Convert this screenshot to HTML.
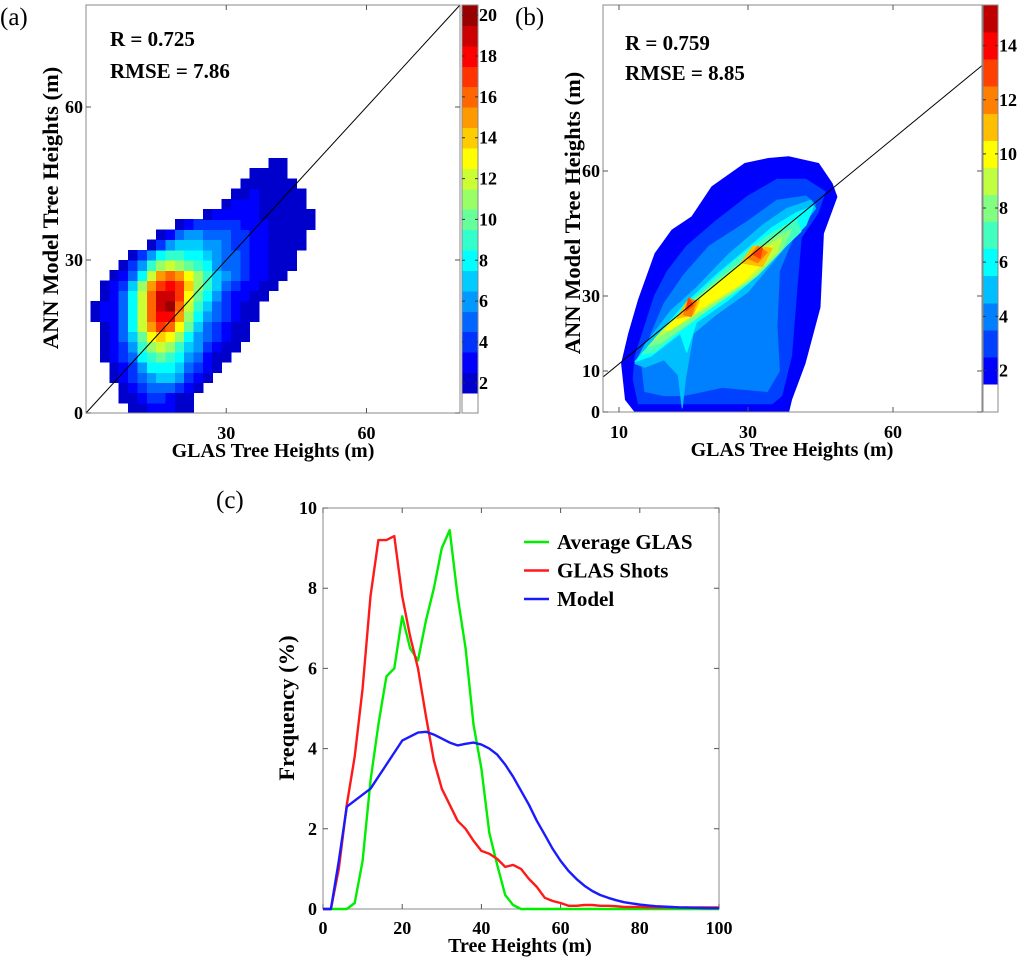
<!DOCTYPE html>
<html><head><meta charset="utf-8"><title>Tree height comparison</title>
<style>
html,body{margin:0;padding:0;background:#fff;}
svg{display:block;}
text{font-family:"Liberation Serif","DejaVu Serif",serif;fill:#000;}
.b{font-weight:bold;}
</style></head>
<body>
<svg id="fig" width="1024" height="959" viewBox="0 0 1024 959" xmlns="http://www.w3.org/2000/svg">
  <rect width="1024" height="959" fill="#fff"/>
  <g id="pa"></g>
  <g id="pb"></g>
  <g id="pc"></g>
</svg>
<script>
// ---------- data ----------
const A_ROWS = [
 [4,"2233322"],
 [3,"22344322"],
 [3,"234555432"],
 [2,"23456776432"],
 [2,"234688875432"],
 [1,"234589a9865322"],
 [1,"23469bcb9764322"],
 [1,"2357adedb8654322"],
 [1,"2358cfhgda754322"],
 [0,"23358cgiifb8654322"],
 [0,"23358cgjkgc9754322"],
 [1,"2358cgjjhda8643322"],
 [1,"2347bfhiheb97543322"],
 [2,"2358cfgfdb976543322"],
 [3,"2469bcba98655433222"],
 [4,"246899887655433222"],
 [6,"24677766544332222"],
 [7,"2356655544332222"],
 [9,"234444433322222"],
 [12,"233333222222"],
 [14,"233322222"],
 [15,"22322222"],
 [16,"222222"],
 [17,"2222"],
 [19,"22"]
];
const A_TICKS_X = [30, 60];
const A_TICKS_Y = [0, 30, 60];
const A_CB_TICKS = [2,4,6,8,10,12,14,16,18,20];
const A_STATS = ["R = 0.725", "RMSE = 7.86"];

const B_LEVELS = [2,3,4,5,6,7,8,9,10,11,12,13];
const B_POLYS = [
 [[[12.5,0],[11,3],[10.4,12],[11.5,20],[13,28.9],[15.6,40.2],[18.2,45.8],[21.3,49],[24.4,56.2],[29.5,61.8],[34.2,63],[38.4,63.4],[44.6,61.8],[47.4,57],[48.4,53.8],[45.6,45],[44.9,27],[41.8,12],[39,3],[38.4,0]]],
 [[[13,2],[12.2,8],[12.5,14],[14,22],[15.5,30],[17.5,36],[20.5,42],[25,48],[30,54],[36,58],[42,58],[46,55],[44.5,50],[41,44],[40,30],[39,14],[37,4],[35,2]]],
 [[[14,5],[13.5,12],[15,20],[17,28],[20,35],[24,42],[30,48],[36,53],[42,54],[44,52],[39,43],[36.5,36],[36,22],[36.5,10],[34,5],[26,6],[20,4],[17,4]]],
 [[[12.5,12],[14,17],[18,26],[22,32],[27,40],[33,47],[38,51],[43,53],[44,51],[40,45],[35,38],[30,31],[25,25],[21.5,20],[20.3,8],[19.8,1],[19.2,9],[17,13],[14,11]]],
 [[[12.5,12.5],[16,19.5],[20,27.5],[25,35],[30,41.5],[35,46.5],[40,50],[43.5,51.5],[42,47],[37,41],[32,35],[27,29],[22,23],[20.5,15],[19.5,20],[15,14]]],
 [[[13.5,14.5],[18,22.5],[22,30],[28,38.5],[34,44.5],[40,48.5],[41,45.5],[36,40],[30,33],[24,26.5],[19,20],[15.5,15]]],
 [[[14.5,16.5],[19,24.5],[24,32],[30,39.5],[35,44],[39,46],[37,41],[32,35],[26,29],[21,23],[16.5,17.5]]],
 [[[15.5,18.5],[20,26.5],[26,34],[32,41],[37,44],[36,40.5],[31,34.5],[25,28.5],[19.5,22.5]]],
 [[[17,21],[21,27],[27,35],[31,40],[35,42],[34,39],[29,33],[23,27],[18,21]]],
 [[[19,24],[20.5,28.5],[22.5,29],[21.5,25]],[[29,38],[31,42],[35,41.5],[33,37]]],
 [[[20,25],[20.8,29.5],[22,28.5],[21.2,24.5]],[[30,39],[32,42],[34,40.5],[32,38]]],
 [[[20.4,26],[20.8,29.5],[21.5,27.5]],[[31,40],[33,41.5],[32.5,39]]]
];
const B_LINE = [[7.5,8.5],[78.4,85.3]];
const B_TICKS_X = [10, 30, 60];
const B_TICKS_Y = [0, 10, 30, 60];
const B_CB_TICKS = [2,4,6,8,10,12,14];
const B_STATS = ["R = 0.759", "RMSE = 8.85"];

const C_HEIGHTS = [0,2,4,6,8,10,12,14,16,18,20,22,24,26,28,30,32,34,36,38,40,42,44,46,48,50,52,54,56,58,60,62,64,66,68,70,72,74,76,78,80,82,84,86,88,90,92,94,96,98,100];
const C_AVG_GLAS = [0,0,0,0,0.15,1.2,3.2,4.6,5.8,6.0,7.3,6.5,6.2,7.2,8.0,9.0,9.45,7.8,6.5,4.6,3.5,1.9,1.1,0.35,0.1,0,0,0,0,0,0,0,0,0,0,0,0,0,0,0,0,0,0,0,0,0,0,0,0,0,0];
const C_GLAS_SHOTS = [0,0,1.0,2.6,3.8,5.5,7.8,9.2,9.2,9.3,7.8,6.8,6.0,4.8,3.7,3.0,2.6,2.2,2.0,1.7,1.45,1.38,1.25,1.05,1.1,1.0,0.75,0.55,0.28,0.2,0.15,0.08,0.08,0.1,0.1,0.08,0.08,0.07,0.05,0.05,0.05,0.04,0.04,0.04,0.04,0.04,0.04,0.04,0.04,0.04,0.04];
const C_MODEL = [0,0,1.2,2.55,2.7,2.85,3.0,3.3,3.6,3.9,4.2,4.3,4.4,4.42,4.35,4.25,4.15,4.08,4.12,4.15,4.1,4.0,3.85,3.6,3.3,2.95,2.6,2.2,1.85,1.5,1.2,0.95,0.75,0.58,0.45,0.35,0.28,0.22,0.17,0.14,0.11,0.09,0.07,0.06,0.05,0.04,0.035,0.03,0.025,0.02,0.02];
const C_TICKS_X = [0,20,40,60,80,100];
const C_TICKS_Y = [0,2,4,6,8,10];
const C_SERIES_NAMES = ["Average GLAS","GLAS Shots","Model"];

// ---------- helpers ----------
const NS = "http://www.w3.org/2000/svg";
const TICK_FS = 18, XT_FS = 20, YT_FS = 22.5, STAT_FS = 21, LEG_FS = 21, PL_FS = 25;
function mk(parent, tag, attrs, txt){
  const e = document.createElementNS(NS, tag);
  for (const k in attrs) e.setAttribute(k, attrs[k]);
  if (txt !== undefined) e.textContent = txt;
  parent.appendChild(e);
  return e;
}
function jet(t){
  const c = v => Math.max(0, Math.min(1, v));
  const r = c(1.5 - Math.abs(4*t - 3)), g = c(1.5 - Math.abs(4*t - 2)), b = c(1.5 - Math.abs(4*t - 1));
  return `rgb(${Math.round(r*255)},${Math.round(g*255)},${Math.round(b*255)})`;
}
function colA(v){ return jet(0.375 + (v - 8) * 0.05); }
function colB(v){ return jet(0.375 + (v - 6) * 0.0625); }
function pw(knots, pix){
  return function(v){
    let i = 0;
    while (i < knots.length - 2 && v > knots[i+1]) i++;
    return pix[i] + (v - knots[i]) * (pix[i+1] - pix[i]) / (knots[i+1] - knots[i]);
  };
}

// ---------- panel (a) ----------
const pa = document.getElementById('pa');
const AL=86, AR=460, AT=5, AB=413;
const ax = x => AL + x * (AR - AL) / 80;
const ay = y => AB - y * (AB - AT) / 80;
let el;
A_ROWS.forEach((row, r) => {
  const start = row[0], s = row[1];
  for (let i = 0; i < s.length; i++) {
    const v = parseInt(s[i], 36);
    if (!v) continue;
    const c = start + i;
    const x0 = 1 + 2*c, x1 = x0 + 2, y0 = 2*r, y1 = y0 + 2;
    el = mk(pa, 'rect', {x: ax(x0), y: ay(y1), width: ax(x1)-ax(x0)+0.6, height: ay(y0)-ay(y1)+0.6, fill: colA(v), 'shape-rendering':'crispEdges'});
    
    
  }
});
el = mk(pa, 'line', {x1: ax(0), y1: ay(0), x2: ax(80), y2: ay(80), stroke:'#000', 'stroke-width':1});


el = mk(pa, 'rect', {x: AL, y: AT, width: AR-AL, height: AB-AT, fill:'none', stroke:'#888', 'stroke-width':1});


A_TICKS_X.forEach(t => {
  el = mk(pa, 'path', {d:`M${ax(t)},${AB}v-5M${ax(t)},${AT}v5`, stroke:'#555'});
  
  
  el = mk(pa, 'text', {x: ax(t), y: AB+26, 'text-anchor':'middle', 'font-size':TICK_FS, class:'b'}, String(t));
  
  
});
A_TICKS_Y.forEach(t => {
  el = mk(pa, 'path', {d:`M${AL},${ay(t)}h5M${AR},${ay(t)}h-5`, stroke:'#555'});
  
  
  el = mk(pa, 'text', {x: AL-3, y: ay(t)+6, 'text-anchor':'end', 'font-size':TICK_FS, class:'b'}, String(t));
  
  
});
const CAL=462, CAR=478;
const cbA = v => 393 - (v - 1.5) * (388/19);
for (let v = 2; v <= 20; v++) {
  el = mk(pa, 'rect', {x: CAL, y: cbA(v+0.5), width: CAR-CAL, height: cbA(v-0.5)-cbA(v+0.5)+0.5, fill: colA(v), 'shape-rendering':'crispEdges'});
  
  
}
el = mk(pa, 'rect', {x: CAL, y: AT, width: CAR-CAL, height: AB-AT, fill:'none', stroke:'#888'});


A_CB_TICKS.forEach(t => {
  el = mk(pa, 'path', {d:`M${CAL},${cbA(t)}h3M${CAR},${cbA(t)}h-3`, stroke:'#333'});
  
  
  el = mk(pa, 'text', {x: CAR+1, y: cbA(t)+6, 'font-size':TICK_FS, class:'b'}, String(t));
  
  
});
A_STATS.forEach((s, i) => {
  el = mk(pa, 'text', {x: 110, y: 46 + i*32, 'font-size':STAT_FS, class:'b'}, s);
  
  
});
el = mk(pa, 'text', {x: 0, y: 25, 'font-size':PL_FS}, '(a)');


el = mk(pa, 'text', {x: 273, y: 457, 'text-anchor':'middle', 'font-size':XT_FS, class:'b'}, 'GLAS Tree Heights (m)');


el = mk(pa, 'text', {x: 0, y: 0, 'text-anchor':'middle', 'font-size':YT_FS, class:'b', transform:'translate(58,208) rotate(-90)'}, 'ANN Model Tree Heights (m)');



// ---------- panel (b) ----------
const pb = document.getElementById('pb');
const BL=603, BR=982, BT=5, BB=412;
const bx = pw([10,30,60],[619,748,893]);
const by = pw([0,10,30,60],[412,371,296,171]);
B_POLYS.forEach((polys, li) => {
  polys.forEach(poly => {
    el = mk(pb, 'polygon', {points: poly.map(p => bx(p[0]).toFixed(1)+','+by(p[1]).toFixed(1)).join(' '), fill: colB(B_LEVELS[li]), stroke: colB(B_LEVELS[li]), 'stroke-width':1, 'stroke-linejoin':'round'});
    
    
  });
});
el = mk(pb, 'line', {x1: bx(B_LINE[0][0]), y1: by(B_LINE[0][1]), x2: bx(B_LINE[1][0]), y2: by(B_LINE[1][1]), stroke:'#000', 'stroke-width':1});


el = mk(pb, 'rect', {x: BL, y: BT, width: BR-BL, height: BB-BT, fill:'none', stroke:'#888'});


B_TICKS_X.forEach(t => {
  el = mk(pb, 'path', {d:`M${bx(t)},${BB}v-5M${bx(t)},${BT}v5`, stroke:'#555'});
  
  
  el = mk(pb, 'text', {x: bx(t), y: BB+26, 'text-anchor':'middle', 'font-size':TICK_FS, class:'b'}, String(t));
  
  
});
B_TICKS_Y.forEach(t => {
  el = mk(pb, 'path', {d:`M${BL},${by(t)}h5M${BR},${by(t)}h-5`, stroke:'#555'});
  
  
  el = mk(pb, 'text', {x: BL-3, y: by(t)+6, 'text-anchor':'end', 'font-size':TICK_FS, class:'b'}, String(t));
  
  
});
const CBL=983, CBR=998;
const cbB = v => 384 - (v - 1.5) * (379/14);
for (let v = 2; v <= 15; v++) {
  el = mk(pb, 'rect', {x: CBL, y: cbB(v+0.5), width: CBR-CBL, height: cbB(v-0.5)-cbB(v+0.5)+0.5, fill: colB(v), 'shape-rendering':'crispEdges'});
  
  
}
el = mk(pb, 'rect', {x: CBL, y: BT, width: CBR-CBL, height: BB-BT, fill:'none', stroke:'#888'});


B_CB_TICKS.forEach(t => {
  el = mk(pb, 'path', {d:`M${CBL},${cbB(t)}h3M${CBR},${cbB(t)}h-3`, stroke:'#333'});
  
  
  el = mk(pb, 'text', {x: CBR+1, y: cbB(t)+6, 'font-size':TICK_FS, class:'b'}, String(t));
  
  
});
B_STATS.forEach((s, i) => {
  el = mk(pb, 'text', {x: 625, y: 50 + i*30, 'font-size':STAT_FS, class:'b'}, s);
  
  
});
el = mk(pb, 'text', {x: 515, y: 25, 'font-size':PL_FS}, '(b)');


el = mk(pb, 'text', {x: 792, y: 456, 'text-anchor':'middle', 'font-size':XT_FS, class:'b'}, 'GLAS Tree Heights (m)');


el = mk(pb, 'text', {x: 0, y: 0, 'text-anchor':'middle', 'font-size':YT_FS, class:'b', transform:'translate(580,213) rotate(-90)'}, 'ANN Model Tree Heights (m)');



// ---------- panel (c) ----------
const pc = document.getElementById('pc');
const CL=323, CR=719, CT=508, CB=909;
const cx = x => CL + x * (CR - CL) / 100;
const cy = y => CB - y * (CB - CT) / 10;
el = mk(pc, 'rect', {x: CL, y: CT, width: CR-CL, height: CB-CT, fill:'none', stroke:'#888'});


C_TICKS_X.forEach(t => {
  el = mk(pc, 'path', {d:`M${cx(t)},${CB}v-5M${cx(t)},${CT}v5`, stroke:'#555'});
  
  
  el = mk(pc, 'text', {x: cx(t), y: CB+25, 'text-anchor':'middle', 'font-size':TICK_FS, class:'b'}, String(t));
  
  
});
C_TICKS_Y.forEach(t => {
  el = mk(pc, 'path', {d:`M${CL},${cy(t)}h5M${CR},${cy(t)}h-5`, stroke:'#555'});
  
  
  el = mk(pc, 'text', {x: CL-6, y: cy(t)+6, 'text-anchor':'end', 'font-size':TICK_FS, class:'b'}, String(t));
  
  
});
const C_SERIES = [C_AVG_GLAS, C_GLAS_SHOTS, C_MODEL];
const C_COLORS = ['#00ee00', '#ff1a1a', '#1a1aff'];
const C_IDS = ['series-average-glas', 'series-glas-shots', 'series-model'];
C_SERIES.forEach((vals, si) => {
  const pts = vals.map((v, i) => cx(C_HEIGHTS[i]).toFixed(1) + ',' + cy(v).toFixed(1)).join(' ');
  el = mk(pc, 'polyline', {points: pts, fill:'none', stroke: C_COLORS[si], 'stroke-width':2.4, 'stroke-linejoin':'round'});
  
  
});
C_SERIES_NAMES.forEach((n, i) => {
  const ly = 542 + i*28.5;
  el = mk(pc, 'line', {x1: 524, y1: ly, x2: 549, y2: ly, stroke: C_COLORS[i], 'stroke-width':2.4});
  
  
  el = mk(pc, 'text', {x: 557, y: ly+7, 'font-size':LEG_FS, class:'b'}, n);
  
  
});
el = mk(pc, 'text', {x: 216, y: 508, 'font-size':PL_FS}, '(c)');


el = mk(pc, 'text', {x: 520, y: 952, 'text-anchor':'middle', 'font-size':XT_FS, class:'b'}, 'Tree Heights (m)');


el = mk(pc, 'text', {x: 0, y: 0, 'text-anchor':'middle', 'font-size':YT_FS, class:'b', transform:'translate(294,708) rotate(-90)'}, 'Frequency (%)');


</script>
</body></html>
